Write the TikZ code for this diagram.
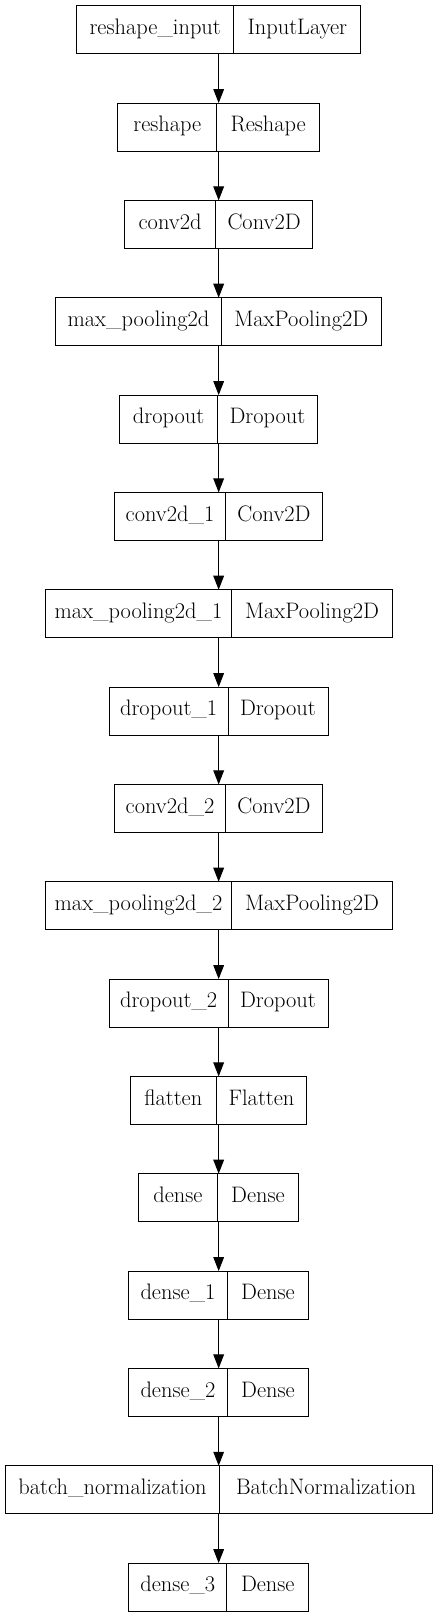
\documentclass[tikz,border=0pt]{standalone}
\usepackage{xcolor}
\usepackage{tikz}
\usetikzlibrary{arrows.meta, chains, positioning}

\begin{document}
\begin{tikzpicture}[
            start chain=going below,
            node distance=37pt,
            box/.style={
                draw,
                minimum height=36pt,
                inner sep=0pt,
                outer sep=0pt,
                line width=0.75pt,
                on chain
  },
  namecell/.style={
    draw,
    anchor=west,
    minimum height=36pt,
    inner sep=0pt,
    outer sep=0pt,
    line width=0.75pt,
    font=\fontsize{16.8}{20}\selectfont,
    text height=10.5pt,
    text depth=3.5pt
  },
  typecell/.style={
    minimum height=36pt,
    inner sep=0pt,
    outer sep=0pt,
    font=\fontsize{16.8}{20}\selectfont,
    text height=10.5pt,
    text depth=3.5pt
  },
  arr/.style={
    -{Triangle[length=10.5pt, width=8pt]},
    line width=0.75pt
  }
]
\useasboundingbox (0,0) rectangle (327.75pt,-1212.75pt);

% Layer boxes
\node [box, minimum width=213.2pt] (inp) at (164pt,-22.3pt) {};
\node [box, minimum width=151.2pt] (resh) {};
\node [box, minimum width=141pt] (conv) {};
\node [box, minimum width=244.2pt] (pool) {};
\node [box, minimum width=148.2pt] (drop) {};
\node [box, minimum width=156pt] (conv1) {};
\node [box, minimum width=260.25pt] (pool1) {};
\node [box, minimum width=164pt] (drop1) {};
\node [box, minimum width=156pt] (conv2) {};
\node [box, minimum width=260.25pt] (pool2) {};
\node [box, minimum width=164pt] (drop2) {};
\node [box, minimum width=132.3pt] (flat) {};
\node [box, minimum width=120pt] (dense) {};
\node [box, minimum width=135pt] (dense1) {};
\node [box, minimum width=135pt] (dense2) {};
\node [box, minimum width=320.25pt] (bnorm) {};
\node [box, minimum width=135pt] (dense3) {};

% Layer names (left cells)
\node [namecell, minimum width=118pt] (inp-n) at (inp.west) {reshape\_input};
\node [namecell, minimum width=74.25pt] (resh-n) at (resh.west) {reshape};
\node [namecell, minimum width=68.1pt] (conv-n) at (conv.west) {conv2d};
\node [namecell, minimum width=124pt] (pool-n) at (pool.west) {max\_pooling2d};
\node [namecell, minimum width=73.2pt] (drop-n) at (drop.west) {dropout};
\node [namecell, minimum width=83pt] (conv1-n) at (conv1.west) {conv2d\_1};
\node [namecell, minimum width=140pt] (pool1-n) at (pool1.west) {max\_pooling2d\_1};
\node [namecell, minimum width=89pt] (drop1-n) at (drop1.west) {dropout\_1};
\node [namecell, minimum width=83pt] (conv2-n) at (conv2.west) {conv2d\_2};
\node [namecell, minimum width=140pt] (pool2-n) at (pool2.west) {max\_pooling2d\_2};
\node [namecell, minimum width=89pt] (drop2-n) at (drop2.west) {dropout\_2};
\node [namecell, minimum width=64.3pt] (flat-n) at (flat.west) {flatten};
\node [namecell, minimum width=59pt] (dense-n) at (dense.west) {dense};
\node [namecell, minimum width=74pt] (dense1-n) at (dense1.west) {dense\_1};
\node [namecell, minimum width=74pt] (dense2-n) at (dense2.west) {dense\_2};
\node [namecell, minimum width=161pt] (bnorm-n) at (bnorm.west) {batch\_normalization};
\node [namecell, minimum width=73.7pt] (dense3-n) at (dense3.west) {dense\_3};

% Layer types (right cells)
\node [typecell, minimum width=95.2pt, right=0pt of inp-n] (inp-t) {InputLayer};
\node [typecell, minimum width=77pt, right=0pt of resh-n] (resh-t) {Reshape};
\node [typecell, minimum width=72.9pt, right=0pt of conv-n] (conv-t) {Conv2D};
\node [typecell, minimum width=120.2pt, right=0pt of pool-n] (pool-t) {MaxPooling2D};
\node [typecell, minimum width=75pt, right=0pt of drop-n] (drop-t) {Dropout};
\node [typecell, minimum width=73pt, right=0pt of conv1-n] (conv1-t) {Conv2D};
\node [typecell, minimum width=120.25pt, right=0pt of pool1-n] (pool1-t) {MaxPooling2D};
\node [typecell, minimum width=75pt, right=0pt of drop1-n] (drop1-t) {Dropout};
\node [typecell, minimum width=73pt, right=0pt of conv2-n] (conv2-t) {Conv2D};
\node [typecell, minimum width=120.25pt, right=0pt of pool2-n] (pool2-t) {MaxPooling2D};
\node [typecell, minimum width=75pt, right=0pt of drop2-n] (drop2-t) {Dropout};
\node [typecell, minimum width=68pt, right=0pt of flat-n] (flat-t) {Flatten};
\node [typecell, minimum width=61pt, right=0pt of dense-n] (dense-t) {Dense};
\node [typecell, minimum width=61pt, right=0pt of dense1-n] (dense1-t) {Dense};
\node [typecell, minimum width=61pt, right=0pt of dense2-n] (dense2-t) {Dense};
\node [typecell, minimum width=159.25pt, right=0pt of bnorm-n] (bnorm-t) {BatchNormalization};
\node [typecell, minimum width=61.3pt, right=0pt of dense3-n] (dense3-t) {Dense};

% Arrows between layers
\foreach \a/\b in {inp/resh, resh/conv, conv/pool, pool/drop, drop/conv1,
    conv1/pool1, pool1/drop1, drop1/conv2, conv2/pool2, pool2/drop2,
    drop2/flat, flat/dense, dense/dense1, dense1/dense2, dense2/bnorm,
    bnorm/dense3}
  \draw [arr] (\a) -- (\b);

\end{tikzpicture}
\end{document}
